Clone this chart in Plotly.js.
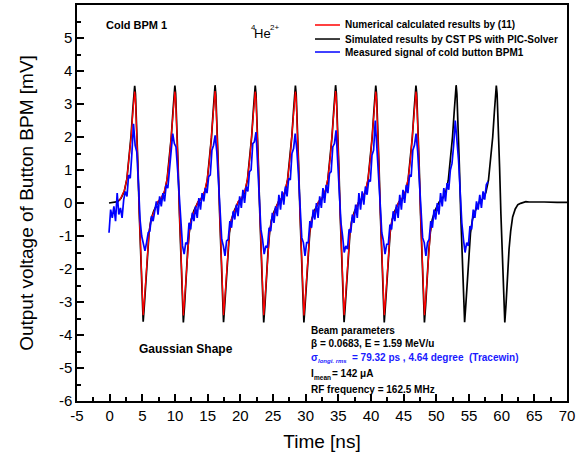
<!DOCTYPE html>
<html><head><meta charset="utf-8">
<script src="https://cdn.plot.ly/plotly-3.0.1.min.js"></script>
<style>html,body{margin:0;padding:0;background:#fff}#chart{width:581px;height:462px}</style>
</head><body><div id="chart"></div>
<script>
// ---- Simulated results by CST PS with PIC-Solver (black) ----
const blackTime = [-0.1,0.4,0.9,
1.23,1.73,2.23,2.63,2.98,3.28,3.53,3.71,3.83,3.95,4.13,4.33,4.53,4.73,4.93,5.13,5.31,5.53,5.78,6.03,6.33,6.73,7.13,
7.38,7.88,8.38,8.78,9.13,9.43,9.68,9.86,9.98,10.10,10.28,10.48,10.68,10.88,11.08,11.28,11.46,11.68,11.93,12.18,12.48,12.88,13.28,
13.53,14.03,14.53,14.93,15.28,15.58,15.83,16.01,16.13,16.25,16.43,16.63,16.83,17.03,17.23,17.43,17.61,17.83,18.08,18.33,18.63,19.03,19.43,
19.68,20.18,20.68,21.08,21.43,21.73,21.98,22.16,22.28,22.40,22.58,22.78,22.98,23.18,23.38,23.58,23.76,23.98,24.23,24.48,24.78,25.18,25.58,
25.83,26.33,26.83,27.23,27.58,27.88,28.13,28.31,28.43,28.55,28.73,28.93,29.13,29.33,29.53,29.73,29.91,30.13,30.38,30.63,30.93,31.33,31.73,
31.98,32.48,32.98,33.38,33.73,34.03,34.28,34.46,34.58,34.70,34.88,35.08,35.28,35.48,35.68,35.88,36.06,36.28,36.53,36.78,37.08,37.48,37.88,
38.13,38.63,39.13,39.53,39.88,40.18,40.43,40.61,40.73,40.85,41.03,41.23,41.43,41.63,41.83,42.03,42.21,42.43,42.68,42.93,43.23,43.63,44.03,
44.28,44.78,45.28,45.68,46.03,46.33,46.58,46.76,46.88,47.00,47.18,47.38,47.58,47.78,47.98,48.18,48.36,48.58,48.83,49.08,49.38,49.78,50.18,
50.43,50.93,51.43,51.83,52.18,52.48,52.73,52.91,53.03,53.15,53.33,53.53,53.73,53.93,54.13,54.33,54.51,54.73,54.98,55.23,55.53,55.93,56.33,
56.58,57.08,57.58,57.98,58.33,58.63,58.88,59.06,59.18,59.30,59.48,59.68,59.88,60.08,60.28,60.48,60.66,60.88,61.13,61.38,61.68,62.08,62.48,
62.9,63.3,63.7,64.2,64.8,65.5,66.5,67.5,68.5,70.0];
const blackVolt = [0.0,0.01,0.02,
0.04,0.14,0.35,0.72,1.35,2.05,2.80,3.32,3.55,3.30,2.40,1.10,-0.30,-1.60,-2.90,-3.60,-3.10,-2.30,-1.50,-0.90,-0.50,-0.25,-0.08,
0.02,0.12,0.33,0.70,1.30,2.00,2.75,3.30,3.56,3.31,2.42,1.08,-0.32,-1.62,-2.92,-3.62,-3.12,-2.30,-1.48,-0.90,-0.50,-0.24,-0.07,
0.03,0.13,0.32,0.68,1.28,1.98,2.74,3.30,3.57,3.30,2.40,1.10,-0.30,-1.60,-2.90,-3.61,-3.10,-2.31,-1.50,-0.91,-0.51,-0.25,-0.08,
0.03,0.12,0.32,0.69,1.30,2.00,2.76,3.31,3.56,3.31,2.41,1.09,-0.31,-1.61,-2.91,-3.62,-3.11,-2.30,-1.49,-0.90,-0.50,-0.25,-0.07,
0.03,0.13,0.33,0.70,1.31,2.01,2.75,3.30,3.56,3.30,2.40,1.10,-0.30,-1.60,-2.90,-3.62,-3.10,-2.30,-1.50,-0.90,-0.50,-0.24,-0.08,
0.03,0.12,0.32,0.69,1.30,2.00,2.75,3.31,3.57,3.31,2.41,1.09,-0.31,-1.61,-2.91,-3.61,-3.11,-2.31,-1.49,-0.91,-0.50,-0.25,-0.08,
0.03,0.13,0.32,0.68,1.29,1.99,2.74,3.30,3.56,3.30,2.40,1.10,-0.30,-1.60,-2.90,-3.62,-3.10,-2.30,-1.50,-0.90,-0.51,-0.25,-0.07,
0.03,0.12,0.33,0.70,1.30,2.00,2.76,3.31,3.56,3.31,2.41,1.09,-0.31,-1.61,-2.91,-3.62,-3.11,-2.30,-1.49,-0.90,-0.50,-0.24,-0.08,
0.03,0.13,0.32,0.69,1.30,2.01,2.75,3.30,3.57,3.30,2.40,1.10,-0.30,-1.60,-2.90,-3.61,-3.10,-2.31,-1.50,-0.91,-0.50,-0.25,-0.08,
0.03,0.12,0.32,0.69,1.30,2.00,2.75,3.31,3.56,3.31,2.41,1.09,-0.31,-1.61,-2.91,-3.62,-3.10,-2.25,-1.40,-0.85,-0.42,-0.18,-0.05,
-0.01,0.02,0.04,0.03,0.04,0.03,0.03,0.02,0.02,0.02];

// ---- Numerical calculated results by (11) (red) ----
const redTime = [1.5,
1.73,2.23,2.63,2.98,3.28,3.53,3.71,3.83,3.95,4.13,4.33,4.53,4.73,4.93,5.13,5.31,5.53,5.78,6.03,6.33,6.73,7.13,
7.38,7.88,8.38,8.78,9.13,9.43,9.68,9.86,9.98,10.10,10.28,10.48,10.68,10.88,11.08,11.28,11.46,11.68,11.93,12.18,12.48,12.88,13.28,
13.53,14.03,14.53,14.93,15.28,15.58,15.83,16.01,16.13,16.25,16.43,16.63,16.83,17.03,17.23,17.43,17.61,17.83,18.08,18.33,18.63,19.03,19.43,
19.68,20.18,20.68,21.08,21.43,21.73,21.98,22.16,22.28,22.40,22.58,22.78,22.98,23.18,23.38,23.58,23.76,23.98,24.23,24.48,24.78,25.18,25.58,
25.83,26.33,26.83,27.23,27.58,27.88,28.13,28.31,28.43,28.55,28.73,28.93,29.13,29.33,29.53,29.73,29.91,30.13,30.38,30.63,30.93,31.33,31.73,
31.98,32.48,32.98,33.38,33.73,34.03,34.28,34.46,34.58,34.70,34.88,35.08,35.28,35.48,35.68,35.88,36.06,36.28,36.53,36.78,37.08,37.48,37.88,
38.13,38.63,39.13,39.53,39.88,40.18,40.43,40.61,40.73,40.85,41.03,41.23,41.43,41.63,41.83,42.03,42.21,42.43,42.68,42.93,43.23,43.63,44.03,
44.28,44.78,45.28,45.68,46.03,46.33,46.58,46.76,46.88,47.00,47.18,47.38,47.58,47.78,47.98,48.18,48.36,48.58,48.83,49.08,49.28];
const redVolt = [0.07,
0.16,0.37,0.73,1.33,2.00,2.70,3.20,3.38,3.15,2.30,1.05,-0.30,-1.55,-2.80,-3.40,-2.95,-2.20,-1.45,-0.88,-0.50,-0.26,-0.08,
0.05,0.15,0.36,0.72,1.32,2.00,2.70,3.20,3.38,3.15,2.30,1.05,-0.30,-1.55,-2.80,-3.41,-2.95,-2.20,-1.45,-0.88,-0.50,-0.26,-0.08,
0.05,0.15,0.36,0.72,1.32,2.00,2.70,3.20,3.39,3.15,2.30,1.05,-0.30,-1.55,-2.80,-3.40,-2.95,-2.20,-1.45,-0.88,-0.50,-0.26,-0.08,
0.05,0.15,0.36,0.72,1.32,2.00,2.70,3.20,3.38,3.15,2.30,1.05,-0.30,-1.55,-2.80,-3.40,-2.95,-2.20,-1.45,-0.88,-0.50,-0.26,-0.08,
0.05,0.15,0.36,0.72,1.32,2.00,2.70,3.20,3.38,3.15,2.30,1.05,-0.30,-1.55,-2.80,-3.41,-2.95,-2.20,-1.45,-0.88,-0.50,-0.26,-0.08,
0.05,0.15,0.36,0.72,1.32,2.00,2.70,3.20,3.39,3.15,2.30,1.05,-0.30,-1.55,-2.80,-3.40,-2.95,-2.20,-1.45,-0.88,-0.50,-0.26,-0.08,
0.05,0.15,0.36,0.72,1.32,2.00,2.70,3.20,3.38,3.15,2.30,1.05,-0.30,-1.55,-2.80,-3.40,-2.95,-2.20,-1.45,-0.88,-0.50,-0.26,-0.08,
0.05,0.15,0.36,0.72,1.32,2.00,2.70,3.20,3.38,3.15,2.30,1.05,-0.30,-1.55,-2.80,-3.40,-2.95,-2.20,-1.45,-0.88,-0.62];

// ---- Measured signal of cold button BPM1 (blue), sampled every 0.25 ns from -0.1 ns ----
const blueStart = -0.1;
const blueStep = 0.25;
const blueVolt = [
-0.90,-0.20,-0.45,-0.10,-0.55,0.30,-0.35,-0.15,-0.45,0.10,0.35,0.20,0.85,0.75,1.50,2.40,1.75,1.55,0.60,-0.50,-1.00,-1.25,-1.45,-1.20,-0.90,-0.85,-0.40,-0.55,-0.20,
0.05,-0.35,0.20,-0.10,0.30,0.05,0.55,0.45,1.00,1.35,2.10,1.80,1.70,1.00,0.10,-0.75,-1.30,-1.55,-1.20,-1.25,-0.60,-0.80,-0.30,-0.55,-0.10,
-0.45,0.15,-0.20,0.30,0.05,0.45,0.30,0.80,0.85,1.60,1.75,2.05,1.55,0.60,-0.30,-1.10,-1.30,-1.60,-1.15,-1.10,-0.55,-0.75,-0.25,-0.50,-0.05,
-0.40,0.20,-0.15,0.40,0.00,0.50,0.35,0.95,1.00,1.80,1.85,2.15,1.20,0.30,-0.80,-1.10,-1.55,-1.30,-1.35,-0.75,-0.85,-0.30,-0.60,-0.10,
-0.40,0.25,-0.20,0.35,-0.05,0.50,0.20,0.75,0.70,1.50,1.65,2.10,1.60,0.85,-0.10,-1.05,-1.20,-1.60,-1.20,-1.20,-0.55,-0.75,-0.20,-0.50,0.00,
-0.45,0.20,-0.15,0.45,0.00,0.55,0.30,0.90,0.95,1.70,1.80,2.20,1.30,0.45,-0.60,-1.00,-1.50,-1.30,-1.40,-0.80,-0.90,-0.35,-0.60,-0.05,
-0.45,0.30,-0.20,0.35,-0.05,0.50,0.25,0.70,0.65,1.45,1.60,2.50,1.75,1.05,0.00,-0.90,-1.15,-1.55,-1.25,-1.25,-0.65,-0.80,-0.25,-0.55,-0.05,
-0.45,0.25,-0.20,0.40,0.00,0.55,0.30,0.85,0.80,1.60,1.75,2.10,1.55,0.70,-0.30,-1.05,-1.20,-1.60,-1.20,-1.10,-0.55,-0.75,-0.20,-0.50,0.00,
-0.35,0.30,-0.10,0.45,0.05,0.60,0.40,1.00,1.20,1.75,2.50,1.90,1.30,0.35,-0.60,-1.10,-1.50,-1.20,-1.30,-0.70,-0.80,-0.20,-0.45,0.05,
-0.20,0.25,-0.15,0.35,0.10,0.55,0.65];

const legendNames = ['Numerical calculated results by (11)', 'Simulated results by CST PS with PIC-Solver', 'Measured signal of cold button BPM1'];
const legendColors = ['#ff0000', '#000000', '#0000ff'];
const xTickVals = [-5,0,5,10,15,20,25,30,35,40,45,50,55,60,65,70];
const xTickText = ['-5','0','5','10','15','20','25','30','35','40','45','50','55','60','65','70'];
const yTickVals = [-6,-5,-4,-3,-2,-1,0,1,2,3,4,5];
const yTickText = ['-6','-5','-4','-3','-2','-1','0','1','2','3','4','5'];

const FONT = '"Liberation Sans", Arial, Helvetica, sans-serif';

const traces = [
  {x: blackTime, y: blackVolt, type: 'scatter', mode: 'lines', name: legendNames[1], showlegend: false,
   line: {color: '#000000', width: 1.7}},
  {x: redTime, y: redVolt, type: 'scatter', mode: 'lines', name: legendNames[0], showlegend: false,
   line: {color: '#ff0000', width: 1.3}},
  {y: blueVolt, x0: blueStart, dx: blueStep, type: 'scatter', mode: 'lines', name: legendNames[2], showlegend: false,
   line: {color: '#0000ff', width: 1.7}}
];

function ann(text, x, y, size, color, italic) {
  return {xref: 'paper', yref: 'paper', x: x, y: y, xanchor: 'left', yanchor: 'middle',
    showarrow: false, text: text,
    font: {family: FONT, size: size || 10, color: color || '#000', weight: 'bold', style: italic ? 'italic' : 'normal'}};
}

// legend drawn compactly (sample line + label), as in the reference
const legendRowsY = [0.9495, 0.9141, 0.8813];
const shapes = legendRowsY.map((yy, i) => ({type: 'line', xref: 'paper', yref: 'paper',
  x0: 0.4857, x1: 0.5367, y0: yy, y1: yy, line: {color: legendColors[i], width: 1.5}}));
const legendAnns = legendRowsY.map((yy, i) => ann(legendNames[i], 0.543, yy, 10));

const BLUE_TXT = '#1a1aff';
const heAnns = [
  {xref: 'paper', yref: 'paper', x: 0.350, y: 0.944, xanchor: 'left', yanchor: 'middle', showarrow: false,
   text: '4', font: {family: FONT, size: 8, color: '#000'}},
  {xref: 'paper', yref: 'paper', x: 0.357, y: 0.929, xanchor: 'left', yanchor: 'middle', showarrow: false,
   text: 'He', font: {family: FONT, size: 13, color: '#000'}},
  {xref: 'paper', yref: 'paper', x: 0.390, y: 0.944, xanchor: 'left', yanchor: 'middle', showarrow: false,
   text: '2+', font: {family: FONT, size: 8, color: '#000'}}
];

const layout = {
  width: 581, height: 462,
  margin: {l: 77, r: 14, t: 5, b: 61},
  paper_bgcolor: '#ffffff', plot_bgcolor: '#ffffff',
  font: {family: FONT, color: '#000'},
  showlegend: false,
  xaxis: {range: [-5, 70], tickvals: xTickVals, ticktext: xTickText, ticks: 'inside', ticklen: 7, tickwidth: 1.5, tickcolor: '#000',
    minor: {dtick: 2.5, tick0: 0, ticks: 'inside', ticklen: 4, tickwidth: 1.5, tickcolor: '#000'},
    showline: true, linewidth: 1.5, linecolor: '#000', mirror: true, showgrid: false, zeroline: false,
    tickfont: {family: FONT, size: 15, color: '#000'},
    title: {text: 'Time [ns]', font: {family: FONT, size: 19, color: '#000'}, standoff: 12}},
  yaxis: {range: [-6, 6], tickvals: yTickVals, ticktext: yTickText, ticks: 'inside', ticklen: 7, tickwidth: 1.5, tickcolor: '#000',
    minor: {dtick: 0.5, tick0: 0, ticks: 'inside', ticklen: 4, tickwidth: 1.5, tickcolor: '#000'},
    showline: true, linewidth: 1.5, linecolor: '#000', mirror: true, showgrid: false, zeroline: false,
    tickfont: {family: FONT, size: 15, color: '#000'},
    title: {text: 'Output voltage of Button BPM [mV]', font: {family: FONT, size: 19, color: '#000'}, standoff: 20}},
  shapes: shapes,
  annotations: legendAnns.concat(heAnns, [
    ann('Cold BPM 1', 0.055, 0.949, 11),
    ann('Gaussian Shape', 0.122, 0.131, 12),
    ann('Beam parameters', 0.4735, 0.179, 10),
    ann('β = 0.0683, E = 1.59 MeV/u', 0.4735, 0.146, 10),
    ann('σ', 0.4735, 0.111, 10, BLUE_TXT),
    ann('longi. rms', 0.4878, 0.101, 6, BLUE_TXT, true),
    ann('= 79.32 ps , 4.64 degree  (Tracewin)', 0.557, 0.111, 10, BLUE_TXT),
    ann('I', 0.4735, 0.0707, 10),
    ann('mean', 0.4800, 0.060, 6.5),
    ann('= 142 μA', 0.516, 0.0707, 10),
    ann('RF frequency = 162.5 MHz', 0.4735, 0.030, 10)
  ])
};

Plotly.newPlot('chart', traces, layout, {displayModeBar: false});
</script>
</body></html>
